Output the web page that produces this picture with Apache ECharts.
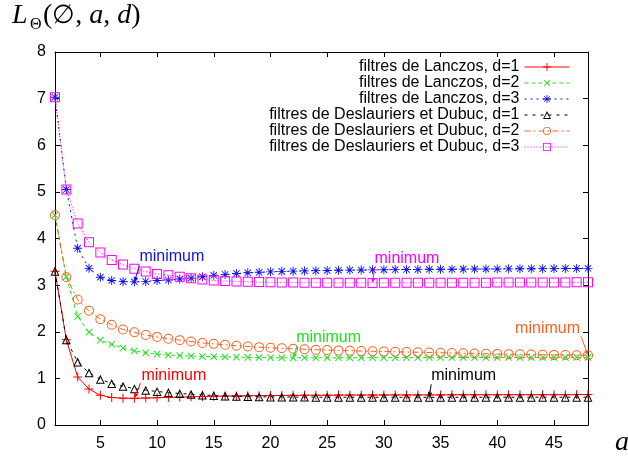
<!DOCTYPE html>
<html><head><meta charset="utf-8">
<script src="https://cdn.jsdelivr.net/npm/echarts@6/dist/echarts.min.js"></script>
<style>html,body{margin:0;padding:0;background:#fff}#c{width:628px;height:457px}</style>
</head><body><div id="c"></div><script>
// ---- data ----
const aValues = [1,2,3,4,5,6,7,8,9,10,11,12,13,14,15,16,17,18,19,20,21,22,23,24,25,26,27,28,29,30,31,32,33,34,35,36,37,38,39,40,41,42,43,44,45,46,47,48];
const xTicks = [5,10,15,20,25,30,35,40,45];
const seriesNames = [
  'filtres de Lanczos, d=1',
  'filtres de Lanczos, d=2',
  'filtres de Lanczos, d=3',
  'filtres de Deslauriers et Dubuc, d=1',
  'filtres de Deslauriers et Dubuc, d=2',
  'filtres de Deslauriers et Dubuc, d=3'
];
const lanczos1 = [3.30,1.83,1.03,0.77,0.64,0.59,0.575,0.573,0.578,0.585,0.592,0.598,0.604,0.61,0.615,0.62,0.624,0.627,0.63,0.632,0.634,0.636,0.637,0.638,0.64,0.641,0.642,0.642,0.643,0.644,0.644,0.645,0.645,0.646,0.646,0.647,0.647,0.648,0.648,0.649,0.649,0.65,0.65,0.65,0.651,0.651,0.652,0.652];
const lanczos2 = [4.50,3.18,2.33,1.99,1.82,1.73,1.65,1.59,1.55,1.52,1.50,1.49,1.48,1.47,1.465,1.46,1.455,1.45,1.447,1.444,1.442,1.44,1.441,1.441,1.442,1.442,1.443,1.443,1.444,1.444,1.445,1.445,1.445,1.446,1.446,1.446,1.447,1.447,1.447,1.448,1.448,1.448,1.449,1.449,1.449,1.45,1.45,1.45];
const lanczos3 = [7.03,5.05,3.79,3.36,3.17,3.10,3.075,3.07,3.08,3.10,3.11,3.13,3.15,3.18,3.21,3.23,3.25,3.265,3.275,3.285,3.295,3.30,3.305,3.31,3.315,3.32,3.322,3.325,3.328,3.33,3.333,3.335,3.337,3.339,3.34,3.342,3.343,3.345,3.346,3.347,3.349,3.35,3.351,3.353,3.354,3.356,3.358,3.36];
const dd1 = [3.30,1.83,1.35,1.12,0.98,0.89,0.83,0.78,0.745,0.72,0.695,0.675,0.66,0.645,0.632,0.622,0.615,0.61,0.606,0.603,0.601,0.599,0.598,0.597,0.596,0.596,0.595,0.595,0.595,0.594,0.594,0.594,0.594,0.593,0.594,0.594,0.594,0.594,0.595,0.595,0.595,0.595,0.595,0.596,0.596,0.596,0.596,0.596];
const dd2 = [4.50,3.17,2.69,2.45,2.27,2.15,2.05,1.99,1.93,1.89,1.85,1.82,1.79,1.76,1.74,1.72,1.70,1.685,1.67,1.655,1.645,1.635,1.625,1.615,1.607,1.60,1.593,1.587,1.58,1.575,1.57,1.565,1.56,1.555,1.55,1.545,1.54,1.535,1.53,1.525,1.52,1.516,1.512,1.508,1.504,1.50,1.497,1.494];
const dd3 = [7.03,5.05,4.32,3.92,3.70,3.54,3.44,3.35,3.29,3.24,3.21,3.18,3.15,3.12,3.10,3.09,3.08,3.07,3.065,3.06,3.057,3.055,3.053,3.052,3.051,3.05,3.05,3.049,3.048,3.049,3.049,3.05,3.05,3.051,3.051,3.052,3.052,3.053,3.053,3.054,3.055,3.055,3.056,3.057,3.057,3.058,3.059,3.06];
const minimumA = [8, 22, 8, 34, 48, 29]; // position of the "minimum" annotation per series

// ---- styles ----
const colors = ['#ff0000', '#22e022', '#1010f0', '#000000', '#ff5f1f', '#ff00ff'];
const PLUS = 'path://M-0.11,-1L0.11,-1L0.11,-0.11L1,-0.11L1,0.11L0.11,0.11L0.11,1L-0.11,1L-0.11,0.11L-1,0.11L-1,-0.11L-0.11,-0.11Z';
const STAR = 'path://M-0.1,-1L0.1,-1L0.1,1L-0.1,1Z M-1,-0.1L1,-0.1L1,0.1L-1,0.1Z M-0.78,-0.64L-0.64,-0.78L0.78,0.64L0.64,0.78Z M0.64,-0.78L0.78,-0.64L-0.64,0.78L-0.78,0.64Z';
const TRI = 'path://M0,-1L1,0.8L-1,0.8Z M0,-0.52L-0.66,0.6L0.66,0.6Z';
const CIRC = 'path://M0,-1A1,1 0 1,1 0,1A1,1 0 1,1 0,-1Z M0,-0.8A0.8,0.8 0 1,0 0,0.8A0.8,0.8 0 1,0 0,-0.8Z';
const SQR = 'path://M-1,-1L1,-1L1,1L-1,1Z M-0.8,-0.8L-0.8,0.8L0.8,0.8L0.8,-0.8Z';
const symbols = [PLUS, PLUS, STAR, TRI, CIRC, SQR];
const symbolSizes = [9, 9, 9, 9, 10, 10];
const rotations = [0, 45, 0, 0, 0, 0];
const dashes = ['solid', [4,3], [2,4], [3,5], [6,3,2,3], [1,2]];
const allData = [lanczos1, lanczos2, lanczos3, dd1, dd2, dd3];

const chart = echarts.init(document.getElementById('c'), null, {renderer: 'canvas'});
const axisLineStyle = {color: '#000', width: 1};
const series = allData.map((vals, i) => ({
  name: seriesNames[i],
  type: 'line',
  xAxisIndex: 0, yAxisIndex: 0,
  data: aValues.map((a, k) => [a, vals[k]]),
  symbol: symbols[i],
  symbolSize: symbolSizes[i],
  symbolRotate: rotations[i],
  showAllSymbol: true,
  lineStyle: {color: colors[i], width: 1, type: dashes[i]},
  itemStyle: {color: colors[i], borderWidth: 0},
  emphasis: {disabled: true},
  z: 2 + i,
  animation: false
}));

chart.setOption({
  animation: false,
  backgroundColor: '#fff',
  textStyle: {fontFamily: 'Liberation Sans'},
  grid: {left: 55, right: 40, top: 52, bottom: 32, containLabel: false},
  xAxis: [
    {type: 'value', min: 1, max: 48, position: 'bottom',
     axisLine: {show: true, onZero: false, lineStyle: axisLineStyle},
     axisTick: {show: true, inside: true, length: 5, customValues: xTicks, lineStyle: axisLineStyle},
     axisLabel: {show: true, customValues: xTicks, color: '#000', fontSize: 16, margin: 11, fontFamily: 'Liberation Sans'},
     splitLine: {show: false}},
    {type: 'value', min: 1, max: 48, position: 'top',
     axisLine: {show: true, onZero: false, lineStyle: axisLineStyle},
     axisTick: {show: true, inside: true, length: 5, customValues: xTicks, lineStyle: axisLineStyle},
     axisLabel: {show: false},
     splitLine: {show: false}}
  ],
  yAxis: [
    {type: 'value', min: 0, max: 8, interval: 1, position: 'left',
     axisLine: {show: true, onZero: false, lineStyle: axisLineStyle},
     axisTick: {show: true, inside: true, length: 5, lineStyle: axisLineStyle},
     axisLabel: {color: '#000', fontSize: 16, margin: 9, fontFamily: 'Liberation Sans'},
     splitLine: {show: false}},
    {type: 'value', min: 0, max: 8, interval: 1, position: 'right',
     axisLine: {show: true, onZero: false, lineStyle: axisLineStyle},
     axisTick: {show: true, inside: true, length: 5, lineStyle: axisLineStyle},
     axisLabel: {show: false},
     splitLine: {show: false}}
  ],
  legend: {
    show: true, orient: 'vertical', align: 'right',
    right: 58, top: 59, padding: 0, itemGap: 0,
    itemWidth: 45, itemHeight: 10,
    selectedMode: false,
    lineStyle: {width: 1},
    textStyle: {color: '#000', fontSize: 16, fontFamily: 'Liberation Sans'},
    data: seriesNames
  },
  series: series
});

// ---- annotations & titles ----
const annOffsets = [
  {tx: 7, ty: -23, sx: 6, sy: -15, align: 'left'},
  {tx: 3, ty: -20, sx: 4, sy: -12, align: 'left'},
  {tx: 5, ty: -25, sx: 5, sy: -16, align: 'left'},
  {tx: 2, ty: -22, sx: 2, sy: -13, align: 'left'},
  {tx: -8, ty: -27, sx: -7, sy: -19, align: 'right'},
  {tx: 2, ty: -24, sx: 2, sy: -15, align: 'left'}
];
const graphics = [];
allData.forEach((vals, i) => {
  const a = minimumA[i];
  const v = vals[aValues.indexOf(a)];
  const p = chart.convertToPixel({xAxisIndex: 0, yAxisIndex: 0}, [a, v]);
  const o = annOffsets[i];
  const sx = p[0] + o.sx, sy = p[1] + o.sy;
  const dx = p[0] - sx, dy = p[1] - sy;
  const L = Math.sqrt(dx * dx + dy * dy);
  const ux = dx / L, uy = dy / L;
  const hl = 5, hw = 2.2;
  const bx = p[0] - ux * hl, by = p[1] - uy * hl;
  graphics.push({type: 'line', shape: {x1: sx, y1: sy, x2: bx, y2: by}, style: {stroke: colors[i], lineWidth: 1}, z: 50, silent: true});
  graphics.push({type: 'polygon', shape: {points: [[p[0], p[1]], [bx - uy * hw, by + ux * hw], [bx + uy * hw, by - ux * hw]]}, style: {fill: colors[i]}, z: 50, silent: true});
  graphics.push({type: 'text', x: p[0] + o.tx, y: p[1] + o.ty, style: {text: 'minimum', fill: colors[i], font: '16px "Liberation Sans"', align: o.align, verticalAlign: 'middle'}, z: 50, silent: true});
});
// title L_Θ(∅, a, d)
graphics.push({type: 'text', x: 12, y: 30, style: {text: 'L', fill: '#000', font: 'italic 28px "Liberation Serif"', align: 'left', verticalAlign: 'bottom'}, silent: true});
graphics.push({type: 'text', x: 30, y: 33, style: {text: 'Θ', fill: '#000', font: '16px "Liberation Serif"', align: 'left', verticalAlign: 'bottom'}, silent: true});
graphics.push({type: 'text', x: 43, y: 30, style: {
  text: '{n|(}{z|∅}{n|, }{i|a}{n|, }{i|d}{n|)}', verticalAlign: 'bottom', align: 'left',
  rich: {n: {font: '28px "Liberation Serif"', fill: '#000'}, z: {font: '26px "DejaVu Serif"', fill: '#000'}, i: {font: 'italic 28px "Liberation Serif"', fill: '#000'}}
}, silent: true});
// x axis name
graphics.push({type: 'text', x: 622, y: 443, style: {text: 'a', fill: '#000', font: 'italic 28px "Liberation Serif"', align: 'center', verticalAlign: 'middle'}, silent: true});
chart.setOption({graphic: graphics});
</script></body></html>
